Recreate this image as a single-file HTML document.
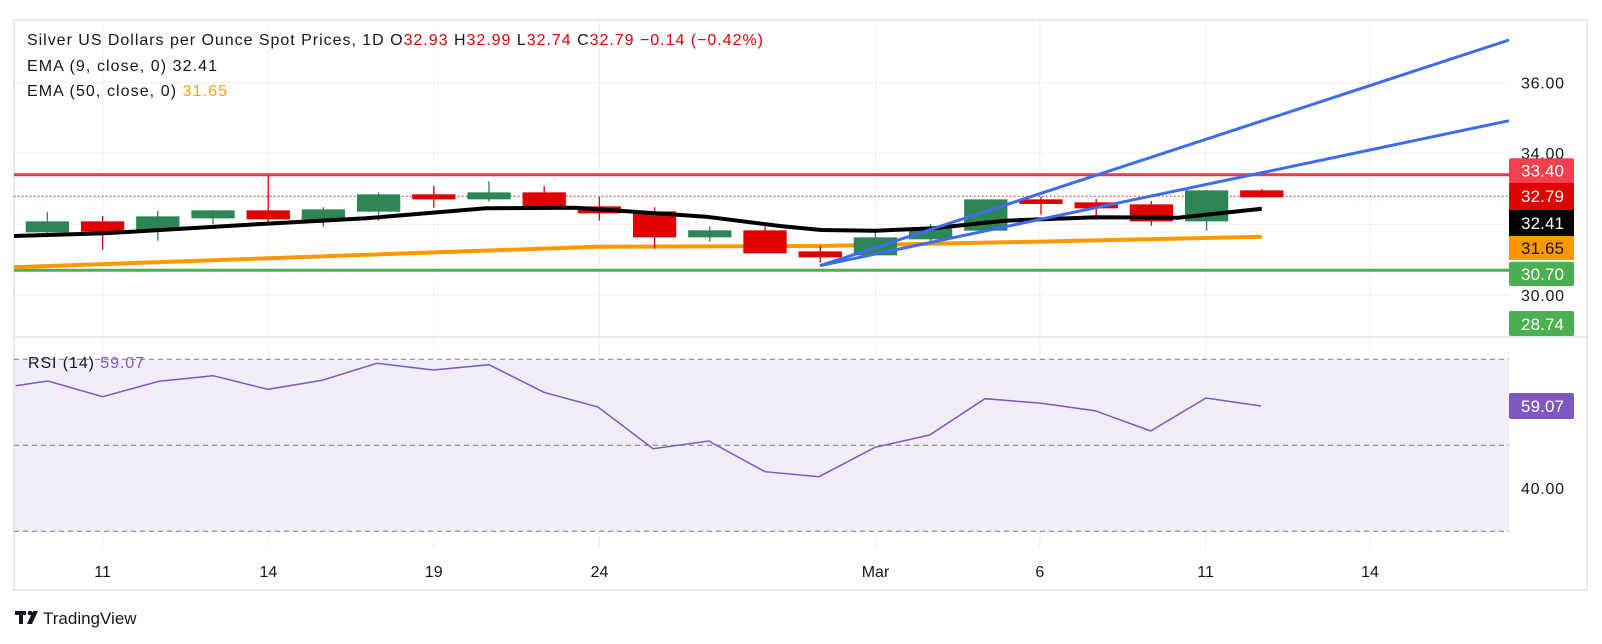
<!DOCTYPE html>
<html><head><meta charset="utf-8"><style>
body{margin:0;background:#fff;}
svg{display:block;font-family:"Liberation Sans",sans-serif;}
</style></head><body>
<svg width="1602" height="644" viewBox="0 0 1602 644" xmlns="http://www.w3.org/2000/svg">
<rect width="1602" height="644" fill="#fff"/>
<rect x="14" y="359.3" width="1495" height="172" fill="#7e57c2" fill-opacity="0.1"/>
<g stroke="#eef0f4" stroke-width="1">
<line x1="102.6" y1="20" x2="102.6" y2="548"/><line x1="268.4" y1="20" x2="268.4" y2="548"/>
<line x1="433.7" y1="20" x2="433.7" y2="548"/><line x1="599.5" y1="20" x2="599.5" y2="548"/>
<line x1="875.5" y1="20" x2="875.5" y2="548"/><line x1="1039.8" y1="20" x2="1039.8" y2="548"/>
<line x1="1205.6" y1="20" x2="1205.6" y2="548"/><line x1="1370" y1="20" x2="1370" y2="548"/>
<line x1="14" y1="82.7" x2="1509" y2="82.7"/><line x1="14" y1="153" x2="1509" y2="153"/>
<line x1="14" y1="224.3" x2="1509" y2="224.3"/><line x1="14" y1="295" x2="1509" y2="295"/>
<line x1="14" y1="402" x2="1509" y2="402"/><line x1="14" y1="488.3" x2="1509" y2="488.3"/>
</g>
<g stroke="#e0e3eb" stroke-width="1.5" fill="none">
<rect x="14" y="20" width="1573" height="570"/>
<line x1="14" y1="337" x2="1587" y2="337"/>
</g>
<g stroke="#787b86" stroke-width="1" stroke-dasharray="5,4">
<line x1="14" y1="359.3" x2="1509" y2="359.3"/><line x1="14" y1="445.3" x2="1509" y2="445.3"/><line x1="14" y1="531.3" x2="1509" y2="531.3"/>
</g>
<line x1="14" y1="174.7" x2="1509" y2="174.7" stroke="#dc3f4f" stroke-width="3"/>
<line x1="14" y1="270.3" x2="1509" y2="270.3" stroke="#4caf50" stroke-width="3"/>
<line x1="14" y1="196.3" x2="1509" y2="196.3" stroke="#b22222" stroke-width="1" stroke-dasharray="1.5,2.5"/>
<polyline fill="none" stroke="#ff9800" stroke-width="4" stroke-linejoin="round" points="14,267.3 596,246.7 820,246 1035,241.7 1261.8,236.7"/>
<g stroke-width="1.3">
<g stroke="#2e8555" fill="#2e8555">
<line x1="47.4" y1="212" x2="47.4" y2="235"/><rect x="26.4" y="222" width="42" height="9.7"/>
<line x1="157.8" y1="211" x2="157.8" y2="240.7"/><rect x="136.8" y="217" width="42" height="13.3"/>
<line x1="213" y1="210" x2="213" y2="224"/><rect x="192" y="211" width="42" height="6.7"/>
<line x1="323.4" y1="207.3" x2="323.4" y2="226.7"/><rect x="302.4" y="210" width="42" height="10"/>
<line x1="378.6" y1="192.3" x2="378.6" y2="220.7"/><rect x="357.6" y="195" width="42" height="16"/>
<line x1="489" y1="181.3" x2="489" y2="201.7"/><rect x="468" y="193" width="42" height="5.7"/>
<line x1="709.8" y1="226.3" x2="709.8" y2="241.7"/><rect x="688.8" y="231" width="42" height="5.7"/>
<line x1="875.4" y1="230" x2="875.4" y2="254.7"/><rect x="854.4" y="238" width="42" height="16.7"/>
<line x1="930.6" y1="224" x2="930.6" y2="241.3"/><rect x="909.6" y="229" width="42" height="9.7"/>
<line x1="985.8" y1="200" x2="985.8" y2="230"/><rect x="964.8" y="200" width="42" height="30"/>
<line x1="1206.6" y1="190" x2="1206.6" y2="230.7"/><rect x="1185.6" y="191" width="42" height="29.7"/>
</g>
<g stroke="#e00000" fill="#e00000">
<line x1="102.6" y1="216" x2="102.6" y2="249.7"/><rect x="81.6" y="222" width="42" height="9"/>
<line x1="268.2" y1="175.3" x2="268.2" y2="222"/><rect x="247.2" y="211" width="42" height="7.7"/>
<line x1="433.8" y1="186" x2="433.8" y2="207.7"/><rect x="412.8" y="195" width="42" height="3.7"/>
<line x1="544.2" y1="186" x2="544.2" y2="206.7"/><rect x="523.2" y="193" width="42" height="13"/>
<line x1="599.4" y1="197" x2="599.4" y2="220.7"/><rect x="578.4" y="207" width="42" height="5.7"/>
<line x1="654.6" y1="207.3" x2="654.6" y2="248.7"/><rect x="633.6" y="212" width="42" height="24.7"/>
<line x1="765" y1="226.3" x2="765" y2="252.7"/><rect x="744" y="231" width="42" height="21.7"/>
<line x1="820.2" y1="246" x2="820.2" y2="262.7"/><rect x="799.2" y="252" width="42" height="4.7"/>
<line x1="1041" y1="196.7" x2="1041" y2="214.7"/><rect x="1020" y="200" width="42" height="3.3"/>
<line x1="1096.2" y1="199" x2="1096.2" y2="220"/><rect x="1075.2" y="203" width="42" height="4.7"/>
<line x1="1151.4" y1="201" x2="1151.4" y2="225.7"/><rect x="1130.4" y="205" width="42" height="15.7"/>
<line x1="1261.8" y1="189" x2="1261.8" y2="197.7"/><rect x="1240.8" y="191" width="42" height="5.7"/>
</g>
</g>
<polyline fill="none" stroke="#000" stroke-width="4" stroke-linejoin="round" points="14,236 104.6,233.3 261,224 366,218.3 486,208.3 575,207.7 706,216.7 780,226 821,230 875,230.7 933,228.3 1004.5,220.7 1096,217.3 1178,217.7 1261.8,208.7"/>
<line x1="820" y1="265.7" x2="1509" y2="40" stroke="#3d6cf0" stroke-width="3"/>
<line x1="820" y1="265.7" x2="1509" y2="120.7" stroke="#3d6cf0" stroke-width="3"/>
<polyline fill="none" stroke="#7e57c2" stroke-width="1.5" points="15.6,385.7 48,381 102.7,396.7 159,381.3 213,375.7 268,389.3 322,380.3 377,363.3 433,370 489,364.7 544,392.3 598,407 653,448.7 708.6,441 765,471.7 819,476.7 875,447.3 929.6,435 985,398.7 1041.5,403.3 1095,410.7 1150.6,431 1206,398 1261,406"/>
<g font-size="16" fill="#131722">
<text x="27" y="45" textLength="736" lengthAdjust="spacing">Silver US Dollars per Ounce Spot Prices, 1D  O<tspan fill="#e00000">32.93</tspan>  H<tspan fill="#e00000">32.99</tspan>  L<tspan fill="#e00000">32.74</tspan>  C<tspan fill="#e00000">32.79</tspan>  <tspan fill="#e00000">−0.14 (−0.42%)</tspan></text>
<text x="27" y="71" textLength="190" lengthAdjust="spacing">EMA (9, close, 0)  32.41</text>
<text x="27" y="96" textLength="200" lengthAdjust="spacing">EMA (50, close, 0)  <tspan fill="#f7a21b">31.65</tspan></text>
<text x="28" y="368" textLength="116" lengthAdjust="spacing">RSI (14)  <tspan fill="#7e57c2">59.07</tspan></text>
</g>
<g font-size="16" fill="#131722">
<text x="1521" y="88.5" textLength="43" lengthAdjust="spacing">36.00</text>
<text x="1521" y="159" textLength="43" lengthAdjust="spacing">34.00</text>
<text x="1521" y="301" textLength="43" lengthAdjust="spacing">30.00</text>
<text x="1521" y="494" textLength="43" lengthAdjust="spacing">40.00</text>
</g>
<rect x="1509" y="158.3" width="65" height="24.4" rx="2" fill="#f23645" fill-opacity="0.95"/>
<rect x="1509" y="182.7" width="65" height="27.3" fill="#e00000"/>
<rect x="1509" y="210" width="65" height="26" fill="#000"/>
<rect x="1509" y="236" width="65" height="24" fill="#ff9800"/>
<rect x="1509" y="261.7" width="65" height="24.3" rx="2" fill="#4caf50"/>
<rect x="1509" y="311" width="65" height="25" rx="2" fill="#4caf50"/>
<rect x="1509" y="393" width="65" height="26" rx="2" fill="#7e57c2"/>
<g font-size="17" fill="#fff">
<text x="1521" y="176.5" textLength="43" lengthAdjust="spacing">33.40</text>
<text x="1521" y="202" textLength="43" lengthAdjust="spacing">32.79</text>
<text x="1521" y="229" textLength="43" lengthAdjust="spacing">32.41</text>
<text x="1521" y="254" fill="#131722" textLength="43" lengthAdjust="spacing">31.65</text>
<text x="1521" y="280" textLength="43" lengthAdjust="spacing">30.70</text>
<text x="1521" y="330" textLength="43" lengthAdjust="spacing">28.74</text>
<text x="1521" y="412" textLength="43" lengthAdjust="spacing">59.07</text>
</g>
<g font-size="16" fill="#131722" text-anchor="middle">
<text x="102.6" y="577">11</text><text x="268.4" y="577">14</text><text x="433.7" y="577">19</text><text x="599.5" y="577">24</text>
<text x="875.5" y="577">Mar</text><text x="1039.8" y="577">6</text><text x="1205.6" y="577">11</text><text x="1370" y="577">14</text>
</g>
<g fill="#131722">
<rect x="15" y="611" width="11" height="4"/><rect x="19" y="611" width="4" height="13"/>
<circle cx="30" cy="613" r="2.3"/><polygon points="33,611 38,611 32,624 27,624"/>
<text x="43" y="624" font-size="17">TradingView</text>
</g>
</svg>
</body></html>
